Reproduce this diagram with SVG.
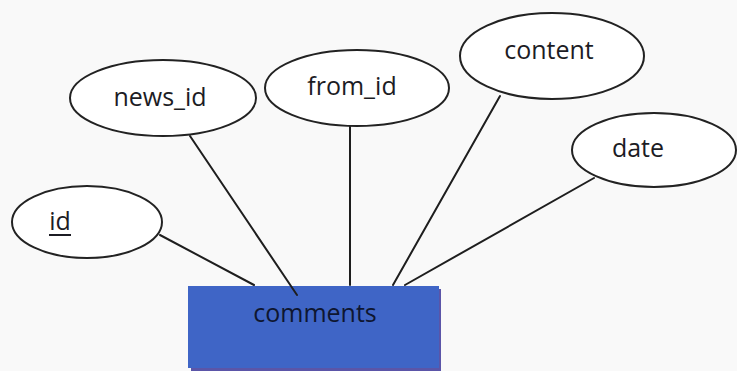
<svg xmlns="http://www.w3.org/2000/svg" width="737" height="371" viewBox="0 0 737 371">
  <style>
    .attr { fill: #ffffff; stroke: #222222; stroke-width: 2; }
    .lbl { font-family: "Open Sans", "Noto Sans", sans-serif; font-size: 25px; fill: #1c1c24; text-anchor: middle; }
    .conn { stroke: #1e1e1e; stroke-width: 2; fill: none; stroke-linecap: round; }
  </style>
  <rect x="0" y="0" width="737" height="371" fill="#f9f9f9"/>
  <g id="comments">
    <rect x="191" y="289" width="250" height="82" fill="#5b55a8"/>
    <rect x="188" y="286" width="251" height="82" fill="#3f65c6"/>
    <text class="lbl" x="315" y="322" fill="#0e1630" style="fill:#0e1630">comments</text>
  </g>
  <g id="connectors">
    <line class="conn" x1="160" y1="235" x2="254" y2="285"/>
    <line class="conn" x1="190" y1="136" x2="297" y2="295"/>
    <line class="conn" x1="350" y1="126" x2="350" y2="285"/>
    <line class="conn" x1="500" y1="96" x2="393" y2="285"/>
    <line class="conn" x1="594" y1="178" x2="405" y2="285"/>
  </g>
  <g id="id">
    <ellipse class="attr" cx="87" cy="222" rx="75" ry="36"/>
    <text class="lbl" x="60" y="230">id</text>
    <line x1="49" y1="235" x2="71" y2="235" stroke="#1c1c24" stroke-width="2"/>
  </g>
  <g id="news_id">
    <ellipse class="attr" cx="163" cy="98" rx="93" ry="38"/>
    <text class="lbl" x="160" y="106">news_id</text>
  </g>
  <g id="from_id">
    <ellipse class="attr" cx="357" cy="88" rx="92" ry="38"/>
    <text class="lbl" x="352" y="95">from_id</text>
  </g>
  <g id="content">
    <ellipse class="attr" cx="552" cy="56" rx="92" ry="43"/>
    <text class="lbl" x="549" y="59">content</text>
  </g>
  <g id="date">
    <ellipse class="attr" cx="654" cy="150" rx="82" ry="37"/>
    <text class="lbl" x="638" y="157">date</text>
  </g>
</svg>
